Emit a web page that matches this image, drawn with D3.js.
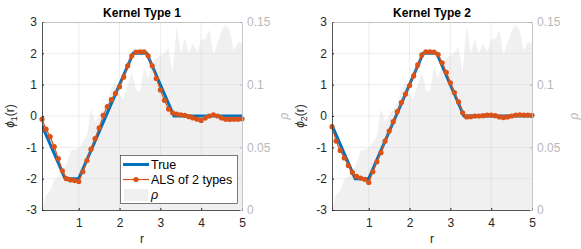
<!DOCTYPE html>
<html lang="en">
<head>
<meta charset="UTF-8">
<title>Kernel types</title>
<script src="https://d3js.org/d3.v7.min.js"></script>
<style>
  body { margin: 0; background: #fff; }
  svg { font-family: "Liberation Sans", Arial, sans-serif; }
</style>
</head>
<body>
<div id="chart"></div>
<script>
// sample points in r
const rGrid = [0.1,0.2,0.3,0.4,0.5,0.6,0.7,0.8,0.9,1.0,1.1,1.2,1.3,1.4,1.5,1.6,1.7,1.8,1.9,2.0,
  2.1,2.2,2.3,2.4,2.5,2.6,2.7,2.8,2.9,3.0,3.1,3.2,3.3,3.4,3.5,3.6,3.7,3.8,3.9,4.0,
  4.1,4.2,4.3,4.4,4.5,4.6,4.7,4.8,4.9,5.0];

// empirical density rho (right axis)
const rho = [0.001,0.012,0.015,0.024,0.027,0.031,0.037,0.047,0.048,0.049,0.054,0.059,0.081,0.070,0.075,0.080,0.085,0.097,0.102,0.092,
  0.089,0.100,0.110,0.096,0.094,0.114,0.105,0.118,0.121,0.123,0.125,0.130,0.109,0.147,0.125,0.137,0.125,0.133,0.126,0.136,
  0.136,0.144,0.124,0.133,0.143,0.148,0.143,0.127,0.134,0.133];

// true kernel (piecewise linear breakpoints)
const trueR = [0.1, 0.667, 1.0, 2.333, 2.667, 3.333, 5.0];
const trueV = [-0.3, -2, -2, 2, 2, 0, 0];

// ALS estimates
const als1 = [-0.1,-0.42,-0.66,-0.98,-1.36,-1.75,-2.00,-2.04,-2.06,-2.09,-1.78,-1.42,-1.06,-0.72,-0.38,0.02,0.30,0.52,0.72,0.93,
  1.24,1.60,1.92,2.04,2.05,2.05,1.92,1.60,1.20,0.83,0.50,0.22,0.10,0.06,0.04,0.02,-0.02,-0.06,-0.10,-0.14,
  -0.06,0.00,0.04,0.00,-0.06,-0.10,-0.11,-0.10,-0.10,-0.09];
const als2 = [-0.34,-0.80,-1.10,-1.34,-1.58,-1.80,-1.93,-1.98,-2.02,-2.12,-1.78,-1.46,-1.17,-0.80,-0.48,-0.18,0.14,0.43,0.70,0.97,
  1.28,1.63,1.95,2.05,2.05,2.04,1.96,1.70,1.39,1.06,0.75,0.45,0.10,-0.03,-0.02,0.00,0.00,0.01,0.03,0.03,
  0.01,-0.03,-0.05,-0.03,0.00,0.03,0.04,0.03,0.03,0.02];

const titles = ["Kernel Type 1", "Kernel Type 2"];
const ylabelSub = ["1", "2"];
const xTicks = [1, 2, 3, 4, 5];
const yTicks = [-3, -2, -1, 0, 1, 2, 3];
const rhoTicks = [0, 0.05, 0.1, 0.15];
const legendLabels = ["True", "ALS of 2 types", "ρ"];

const W = 581, H = 249;
const blue = "#0072BD", orange = "#D95319";
const dark = "#262626", rgray = "#b8b8b8";
const fs = "12px";

const svg = d3.select("#chart").append("svg").attr("width", W).attr("height", H);

const panels = [
  { left: 42, est: als1 },
  { left: 332, est: als2 }
];
const pw = 200, pTop = 22, pBottom = 210;

panels.forEach((p, i) => {
  const x = d3.scaleLinear().domain([0.1, 5]).range([p.left, p.left + pw]);
  const y = d3.scaleLinear().domain([-3, 3]).range([pBottom, pTop]);
  const y2 = d3.scaleLinear().domain([0, 0.15]).range([pBottom, pTop]);
  const g = svg.append("g");

  const clipId = "clip" + i;
  svg.append("clipPath").attr("id", clipId).append("rect")
    .attr("x", p.left).attr("y", pTop).attr("width", pw).attr("height", pBottom - pTop);

  // density area
  g.append("path")
    .datum(rGrid.map((r, k) => [r, rho[k]]))
    .attr("clip-path", `url(#${clipId})`)
    .attr("fill", "#f0f0f0")
    .attr("d", d3.area().x(d => x(d[0])).y0(y2(0)).y1(d => y2(d[1])));

  // grid
  g.append("g").selectAll("line").data(xTicks.slice(0, -1)).join("line")
    .attr("x1", d => x(d)).attr("x2", d => x(d)).attr("y1", pTop).attr("y2", pBottom)
    .attr("stroke", "#d4d4d4").attr("stroke-opacity", 0.7).attr("stroke-width", 0.6);
  g.append("g").selectAll("line").data(yTicks.slice(1, -1)).join("line")
    .attr("x1", p.left).attr("x2", p.left + pw).attr("y1", d => y(d)).attr("y2", d => y(d))
    .attr("stroke", "#d4d4d4").attr("stroke-opacity", 0.7).attr("stroke-width", 0.6);

  // true kernel
  g.append("path")
    .datum(trueR.map((r, k) => [r, trueV[k]]))
    .attr("clip-path", `url(#${clipId})`)
    .attr("fill", "none").attr("stroke", blue).attr("stroke-width", 3)
    .attr("d", d3.line().x(d => x(d[0])).y(d => y(d[1])));

  // ALS estimate
  const est = rGrid.map((r, k) => [r, p.est[k]]);
  g.append("path").datum(est)
    .attr("fill", "none").attr("stroke", orange).attr("stroke-width", 1.2)
    .attr("d", d3.line().x(d => x(d[0])).y(d => y(d[1])));
  g.append("g").selectAll("circle").data(est).join("circle")
    .attr("cx", d => x(d[0])).attr("cy", d => y(d[1])).attr("r", 2.6)
    .attr("fill", orange);

  // axes
  const ax = g.append("g").attr("transform", `translate(0,${pBottom})`)
    .call(d3.axisBottom(x).tickValues(xTicks).tickSizeInner(-2).tickSizeOuter(0).tickPadding(8).tickFormat(d3.format("d")));
  const ay = g.append("g").attr("transform", `translate(${p.left},0)`)
    .call(d3.axisLeft(y).tickValues(yTicks).tickSizeInner(-2).tickSizeOuter(0).tickPadding(5).tickFormat(d => String(d)));
  const ay2 = g.append("g").attr("transform", `translate(${p.left + pw},0)`)
    .call(d3.axisRight(y2).tickValues(rhoTicks).tickSizeInner(-2).tickSizeOuter(0).tickPadding(5).tickFormat(d => String(d)));
  [ax, ay].forEach(a => {
    a.select(".domain").attr("stroke", dark).attr("stroke-width", 0.8);
    a.selectAll(".tick line").attr("stroke", dark);
    a.selectAll("text").attr("fill", dark).style("font-size", fs).style("font-family", "Liberation Sans, Arial, sans-serif");
  });
  ay2.select(".domain").attr("stroke", rgray).attr("stroke-width", 0.8);
  ay2.selectAll(".tick line").attr("stroke", rgray);
  ay2.selectAll("text").attr("fill", rgray).style("font-size", fs).style("font-family", "Liberation Sans, Arial, sans-serif");

  // top border
  g.append("line").attr("x1", p.left).attr("x2", p.left + pw).attr("y1", pTop + 0.5).attr("y2", pTop + 0.5)
    .attr("stroke", "#9a9a9a").attr("stroke-width", 0.6);

  // title
  g.append("text").attr("x", p.left + pw / 2).attr("y", 17).attr("text-anchor", "middle")
    .style("font-size", fs).style("font-weight", "bold").attr("fill", "#000").text(titles[i]);

  // x label
  g.append("text").attr("x", p.left + pw / 2).attr("y", 243).attr("text-anchor", "middle")
    .style("font-size", fs).attr("fill", dark).text("r");

  // y label
  const yl = g.append("text")
    .attr("transform", `translate(${p.left - 28},${(pTop + pBottom) / 2}) rotate(-90)`)
    .attr("text-anchor", "middle").style("font-size", fs).attr("fill", dark);
  yl.append("tspan").style("font-style", "italic").text("ϕ");
  yl.append("tspan").attr("dy", 3).style("font-size", "9px").text(ylabelSub[i]);
  yl.append("tspan").attr("dy", -3).text("(r)");

  // right label
  g.append("text").attr("transform", `translate(${p.left + pw + 46},${(pTop + pBottom) / 2}) rotate(-90)`)
    .attr("text-anchor", "middle").style("font-size", fs).style("font-style", "italic")
    .attr("fill", rgray).text("ρ");

  // legend (first panel only)
  if (i === 0) {
    const lg = g.append("g");
    lg.append("rect").attr("x", 120.5).attr("y", 155.5).attr("width", 117).attr("height", 48)
      .attr("fill", "#fff").attr("stroke", dark).attr("stroke-width", 0.6);
    lg.append("line").attr("x1", 123).attr("x2", 149).attr("y1", 164.5).attr("y2", 164.5)
      .attr("stroke", blue).attr("stroke-width", 3);
    lg.append("line").attr("x1", 123).attr("x2", 149).attr("y1", 179.5).attr("y2", 179.5)
      .attr("stroke", orange).attr("stroke-width", 1.2);
    lg.append("circle").attr("cx", 136).attr("cy", 179.5).attr("r", 2.6).attr("fill", orange);
    lg.append("rect").attr("x", 124).attr("y", 189).attr("width", 24).attr("height", 12).attr("fill", "#f0f0f0");
    const ly = [168.5, 183.5, 199];
    legendLabels.forEach((t, k) => {
      lg.append("text").attr("x", 151).attr("y", ly[k]).style("font-size", "12.5px")
        .style("font-style", k === 2 ? "italic" : "normal").attr("fill", "#000").text(t);
    });
  }
});
</script>
</body>
</html>
